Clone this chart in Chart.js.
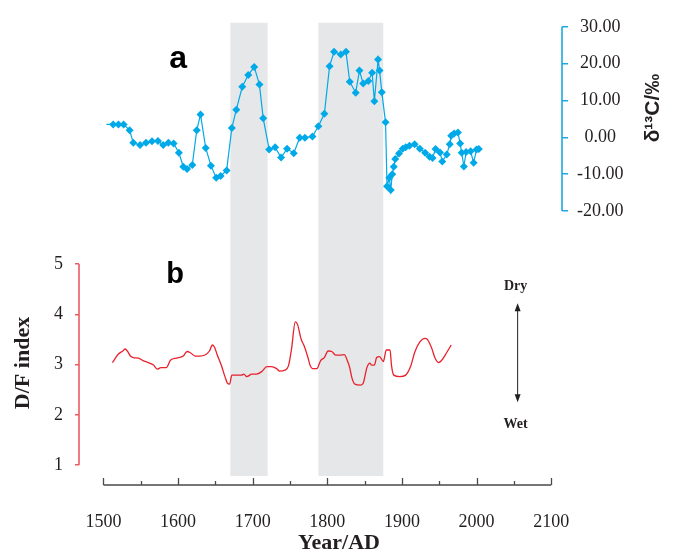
<!DOCTYPE html>
<html>
<head>
<meta charset="utf-8">
<script src="https://cdn.jsdelivr.net/npm/chart.js@4.4.1/dist/chart.umd.min.js"></script>
<style>
  body { margin: 0; background: #fff; }
</style>
</head>
<body>
<canvas id="chartCanvas" width="675" height="552"></canvas>
<script>
// a: δ13C series
const carbonYears = [1504, 1513, 1520, 1527, 1535, 1540, 1549, 1557, 1565, 1573, 1580, 1587, 1594, 1601, 1607, 1612, 1619, 1625, 1630, 1637, 1644, 1651, 1657, 1665, 1672, 1678, 1686, 1694, 1702, 1709, 1714, 1722, 1730, 1738, 1746, 1755, 1763, 1770, 1780, 1788, 1796, 1803, 1809, 1818, 1825, 1830, 1838, 1843, 1848, 1855, 1860, 1863, 1868, 1870, 1873, 1878, 1880, 1883, 1885, 1887, 1889, 1891, 1896, 1901, 1905, 1910, 1917, 1924, 1931, 1937, 1941, 1945, 1951, 1954, 1960, 1964, 1966, 1970, 1975, 1978, 1980, 1983, 1986, 1992, 1996, 2000, 2003];
const carbonValues = [3.5, 3.5, 3.5, 3.5, 1.9, -1.5, -2.1, -1.5, -1.1, -1.0, -2.1, -1.5, -1.7, -4.2, -8.0, -8.6, -7.5, 1.9, 6.2, -2.9, -7.7, -11.0, -10.5, -9.0, 2.5, 7.5, 13.7, 16.9, 19.1, 14.3, 5.2, -3.3, -2.7, -5.5, -3.1, -4.3, -0.1, -0.1, 0.2, 3.0, 6.4, 19.3, 23.2, 22.5, 23.2, 15.1, 12.1, 18.1, 14.6, 15.3, 17.5, 9.8, 21.1, 18.1, 12.2, 4.1, -13.3, -11.0, -14.3, -10.0, -8.0, -5.9, -4.4, -3.1, -2.7, -2.3, -1.9, -3.1, -4.2, -5.3, -5.6, -3.2, -4.1, -6.6, -4.7, -1.9, 0.4, 1.0, 1.3, -1.7, -4.2, -7.9, -4.0, -3.8, -6.9, -3.3, -3.2];

// b: D/F index series
const dfYears = [1512, 1520, 1526, 1529, 1532, 1536, 1540, 1547, 1553, 1560, 1567, 1572, 1577, 1584, 1590, 1598, 1607, 1612, 1616, 1623, 1629, 1636, 1642, 1646, 1649, 1652, 1658, 1663, 1666, 1669, 1672, 1678, 1685, 1688, 1692, 1699, 1705, 1712, 1719, 1725, 1732, 1736, 1743, 1748, 1752, 1757, 1760, 1765, 1769, 1774, 1777, 1780, 1786, 1791, 1796, 1801, 1806, 1811, 1817, 1823, 1826, 1830, 1833, 1837, 1844, 1848, 1853, 1857, 1859, 1863, 1866, 1870, 1875, 1879, 1884, 1886, 1889, 1897, 1905, 1912, 1917, 1924, 1931, 1934, 1940, 1944, 1949, 1953, 1960, 1966];
const dfValues = [3.04, 3.21, 3.27, 3.31, 3.27, 3.17, 3.14, 3.13, 3.08, 3.04, 2.99, 2.91, 2.94, 2.94, 3.09, 3.13, 3.17, 3.26, 3.24, 3.17, 3.17, 3.19, 3.27, 3.39, 3.34, 3.21, 2.98, 2.75, 2.63, 2.61, 2.79, 2.79, 2.79, 2.81, 2.76, 2.81, 2.81, 2.86, 2.96, 2.96, 2.92, 2.87, 2.89, 2.98, 3.31, 3.85, 3.80, 3.50, 3.37, 3.14, 2.98, 2.92, 2.92, 3.08, 3.14, 3.27, 3.26, 3.19, 3.19, 3.20, 3.11, 2.94, 2.73, 2.61, 2.59, 2.63, 2.94, 3.03, 2.99, 2.99, 3.14, 3.16, 3.06, 3.29, 3.29, 2.98, 2.79, 2.76, 2.79, 2.98, 3.24, 3.45, 3.52, 3.50, 3.32, 3.14, 3.04, 3.08, 3.24, 3.39];

// axes
const yearTicks = [1500, 1600, 1700, 1800, 1900, 2000, 2100];
const carbonTicks = [-20, -10, 0, 10, 20, 30];
const dfTicks = [1, 2, 3, 4, 5];
const shadedPeriods = [[1670, 1720], [1788, 1875]];

const blue = "#00a9e8";
const red = "#e8212c";
const leftAxisColor = "#ec5a62";
const rightAxisColor = "#1ea8e3";
const serif = "'Liberation Serif', 'DejaVu Serif', serif";
const sans = "'Liberation Sans', Arial, sans-serif";

// shaded bands, axis lines, titles and labels
const decorations = {
  id: "decorations",
  beforeDatasetsDraw(chart) {
    const { ctx, chartArea, scales } = chart;
    ctx.save();
    ctx.fillStyle = "#e6e7e8";
    shadedPeriods.forEach(([from, to]) => {
      const x1 = scales.x.getPixelForValue(from);
      const x2 = scales.x.getPixelForValue(to);
      ctx.fillRect(x1, chartArea.top, x2 - x1, chartArea.bottom - 9 - chartArea.top);
    });
    ctx.restore();
  },
  afterDraw(chart) {
    const { ctx, chartArea, scales } = chart;
    const x = scales.x;
    ctx.save();

    // x axis line with inward ticks
    const yAxis = chartArea.bottom;
    ctx.strokeStyle = "#4a4a4a";
    ctx.lineWidth = 1.3;
    ctx.beginPath();
    ctx.moveTo(x.getPixelForValue(yearTicks[0]), yAxis);
    ctx.lineTo(x.getPixelForValue(yearTicks[yearTicks.length - 1]), yAxis);
    for (let yr = 1500; yr <= 2100; yr += 50) {
      const px = Math.round(x.getPixelForValue(yr)) + 0.5;
      ctx.moveTo(px, yAxis);
      ctx.lineTo(px, yAxis - (yr % 100 === 0 ? 7 : 4));
    }
    ctx.stroke();

    // left axis (D/F)
    const yDF = scales.yDF;
    ctx.strokeStyle = leftAxisColor;
    ctx.lineWidth = 1.6;
    ctx.beginPath();
    ctx.moveTo(yDF.right, yDF.getPixelForValue(1));
    ctx.lineTo(yDF.right, yDF.getPixelForValue(5));
    ctx.stroke();

    // right axis (δ13C)
    const yC = scales.yC;
    ctx.strokeStyle = rightAxisColor;
    ctx.beginPath();
    ctx.moveTo(yC.left, yC.getPixelForValue(-20));
    ctx.lineTo(yC.left, yC.getPixelForValue(30));
    ctx.stroke();

    // axis titles
    ctx.fillStyle = "#231f20";
    ctx.textAlign = "center";
    ctx.textBaseline = "middle";
    ctx.font = "bold 22px " + serif;
    ctx.save();
    ctx.translate(23, 363);
    ctx.rotate(-Math.PI / 2);
    ctx.fillText("D/F index", 0, 0);
    ctx.restore();

    ctx.font = "bold 21px " + sans;
    ctx.save();
    ctx.translate(653, 108);
    ctx.rotate(-Math.PI / 2);
    ctx.fillText("δ¹³C/‰", 0, 0);
    ctx.restore();

    ctx.textBaseline = "alphabetic";
    ctx.font = "bold 22px " + serif;
    ctx.fillText("Year/AD", 339, 549);

    // panel letters
    ctx.fillStyle = "#000";
    ctx.font = "bold 32px " + sans;
    ctx.fillText("a", x.getPixelForValue(1600), yC.getPixelForValue(18.7));
    ctx.font = "bold 29px " + sans;
    ctx.fillText("b", x.getPixelForValue(1596), yDF.getPixelForValue(4.62));

    // Dry / Wet arrow
    const ax = x.getPixelForValue(2055);
    const top = yDF.getPixelForValue(4.22);
    const bottom = yDF.getPixelForValue(2.25);
    ctx.strokeStyle = "#231f20";
    ctx.fillStyle = "#231f20";
    ctx.lineWidth = 1;
    ctx.beginPath();
    ctx.moveTo(ax, top + 4);
    ctx.lineTo(ax, bottom - 4);
    ctx.stroke();
    ctx.beginPath();
    ctx.moveTo(ax, top);
    ctx.lineTo(ax - 3, top + 8);
    ctx.lineTo(ax + 3, top + 8);
    ctx.closePath();
    ctx.moveTo(ax, bottom);
    ctx.lineTo(ax - 3, bottom - 8);
    ctx.lineTo(ax + 3, bottom - 8);
    ctx.closePath();
    ctx.fill();
    ctx.font = "bold 14px " + serif;
    ctx.fillText("Dry", ax - 2, yDF.getPixelForValue(4.48));
    ctx.fillText("Wet", ax - 2, yDF.getPixelForValue(1.74));

    ctx.restore();
  },
};

const ctx = document.getElementById("chartCanvas").getContext("2d");

new Chart(ctx, {
  type: "line",
  data: {
    datasets: [
      {
        label: "δ13C",
        data: carbonYears.map((yr, i) => ({ x: yr, y: carbonValues[i] })),
        yAxisID: "yC",
        borderColor: blue,
        backgroundColor: blue,
        borderWidth: 1.2,
        pointStyle: "rectRot",
        pointRadius: carbonYears.map((yr, i) => (i === 0 ? 0 : 4)),
        pointBorderWidth: 0,
        tension: 0,
      },
      {
        label: "D/F index",
        data: dfYears.map((yr, i) => ({ x: yr, y: dfValues[i] })),
        yAxisID: "yDF",
        borderColor: red,
        borderWidth: 1.3,
        pointRadius: 0,
        cubicInterpolationMode: "monotone",
      },
    ],
  },
  options: {
    responsive: false,
    animation: false,
    layout: { padding: { top: 20, left: 0, right: 0, bottom: 0 } },
    plugins: {
      legend: { display: false },
      tooltip: { enabled: false },
    },
    scales: {
      x: {
        type: "linear",
        min: 1467.19,
        max: 2114.46,
        afterBuildTicks: (axis) => {
          axis.ticks = yearTicks.map((v) => ({ value: v }));
        },
        afterFit: (axis) => {
          axis.height = 67;
        },
        grid: { display: false },
        border: { display: false },
        ticks: {
          autoSkip: false,
          maxRotation: 0,
          padding: 18,
          color: "#231f20",
          font: { family: serif, size: 18 },
          callback: (v) => String(v),
        },
      },
      yDF: {
        type: "linear",
        position: "left",
        min: 0.6045,
        max: 9.799,
        afterBuildTicks: (axis) => {
          axis.ticks = dfTicks.map((v) => ({ value: v }));
        },
        afterFit: (axis) => {
          axis.width = 79;
        },
        grid: {
          drawOnChartArea: false,
          color: leftAxisColor,
          tickLength: 4,
          lineWidth: 1.5,
        },
        border: { display: false },
        ticks: {
          padding: 12,
          color: "#231f20",
          font: { family: serif, size: 18 },
        },
      },
      yC: {
        type: "linear",
        position: "right",
        min: -94.39,
        max: 31.08,
        afterBuildTicks: (axis) => {
          axis.ticks = carbonTicks.map((v) => ({ value: v }));
        },
        afterFit: (axis) => {
          axis.width = 113;
        },
        grid: {
          drawOnChartArea: false,
          color: rightAxisColor,
          tickLength: 6,
          lineWidth: 1.5,
        },
        border: { display: false },
        ticks: {
          padding: 9,
          crossAlign: "center",
          color: "#231f20",
          font: { family: serif, size: 18 },
          callback: (v) => v.toFixed(2),
        },
      },
    },
  },
  plugins: [decorations],
});
</script>
</body>
</html>
